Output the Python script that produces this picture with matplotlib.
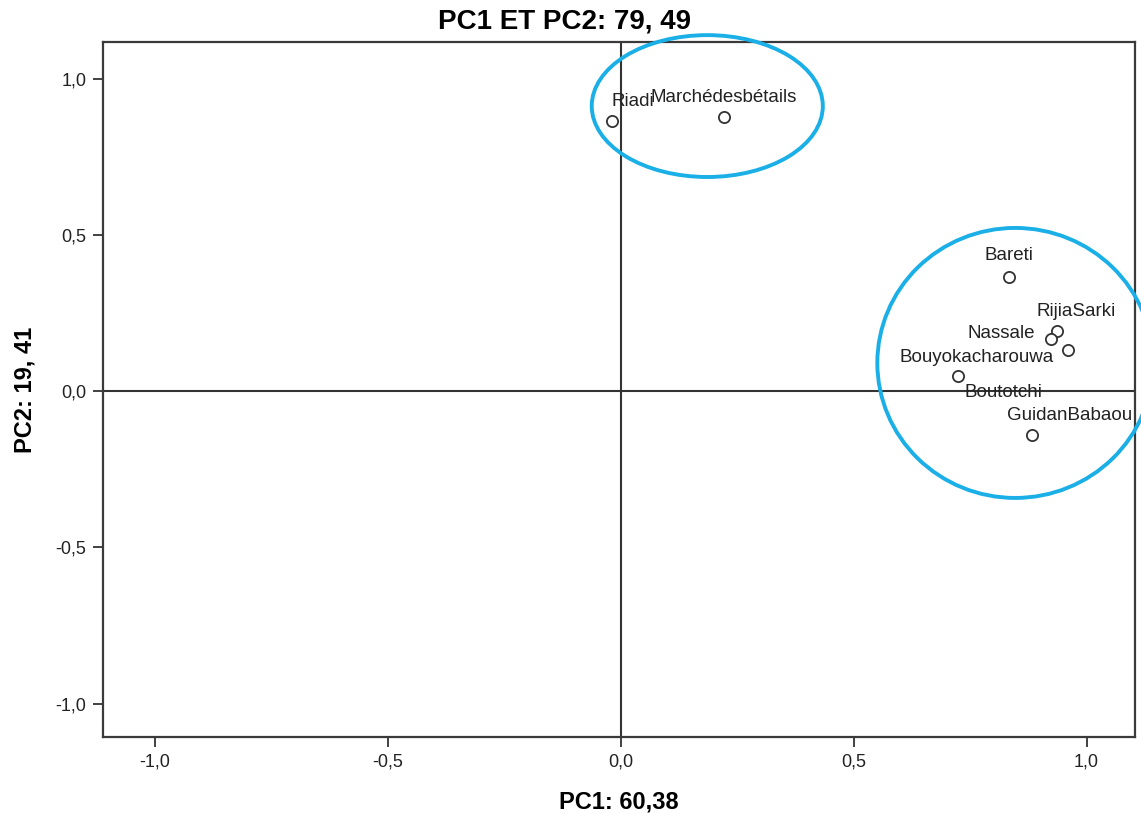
import matplotlib
matplotlib.use("Agg")
import matplotlib.pyplot as plt
from matplotlib.patches import Ellipse
from matplotlib.ticker import FuncFormatter

# données
sites = ["Riadi", "Marchédesbétails", "Bareti", "RijiaSarki", "Nassale",
         "Bouyokacharouwa", "Boutotchi", "GuidanBabaou"]
pc1 = [-0.019, 0.222, 0.834, 0.936, 0.924, 0.961, 0.724, 0.883]
pc2 = [0.865, 0.876, 0.366, 0.193, 0.166, 0.131, 0.049, -0.140]

titre = "PC1 ET PC2: 79, 49"
label_x = "PC1: 60,38"
label_y = "PC2: 19, 41"
ticks = [-1.0, -0.5, 0.0, 0.5, 1.0]

# décalage des étiquettes (points typographiques)
decalages = {
    "Riadi": (15, 14),
    "Marchédesbétails": (0, 14),
    "Bareti": (0, 15),
    "RijiaSarki": (14, 14),
    "Nassale": (-36, 4),
    "Bouyokacharouwa": (-66, -5),
    "Boutotchi": (33, -12),
    "GuidanBabaou": (27, 14),
}

plt.rcParams['font.family'] = ['Liberation Sans', 'DejaVu Sans']

fig = plt.figure(figsize=(11.41, 8.14), dpi=100)
ax = fig.add_axes([0.0903, 0.0946, 0.9044, 0.8538])
ax.set_xlim(-1.111, 1.104)
ax.set_ylim(-1.107, 1.117)

ax.axhline(0, color="#333333", lw=1.5, zorder=1)
ax.axvline(0, color="#333333", lw=1.5, zorder=1)

ax.scatter(pc1, pc2, s=65, facecolors="white", edgecolors="#333333",
           linewidths=1.3, zorder=3)

for nom, x, y in zip(sites, pc1, pc2):
    dx, dy = decalages[nom]
    ax.annotate(nom, (x, y), xytext=(dx, dy), textcoords="offset points",
                ha="center", va="center", fontsize=13.5, color="#222222",
                zorder=4)

# cercles de regroupement
bleu = "#1aafe6"
ax.add_patch(Ellipse((0.186, 0.912), 0.496, 0.454, fill=False, ec=bleu,
                     lw=2.8, clip_on=False, zorder=5))
ax.add_patch(Ellipse((0.847, 0.090), 0.592, 0.864, fill=False, ec=bleu,
                     lw=2.8, clip_on=False, zorder=5))

fmt = FuncFormatter(lambda v, p: f"{v:.1f}".replace(".", ","))
ax.set_xticks(ticks)
ax.set_yticks(ticks)
ax.xaxis.set_major_formatter(fmt)
ax.yaxis.set_major_formatter(fmt)
ax.tick_params(length=7, width=1.3, color="#333333", labelsize=13,
               labelcolor="#222222", pad=5)

for s in ax.spines.values():
    s.set_color("#3a3a3a")
    s.set_linewidth(1.6)

ax.set_title(titre, fontsize=20, fontweight="bold", pad=10, x=0.447)
ax.set_xlabel(label_x, fontsize=17, fontweight="bold", labelpad=14)
ax.set_ylabel(label_y, fontsize=17, fontweight="bold", labelpad=14)

fig.savefig("out.png", dpi=100)
